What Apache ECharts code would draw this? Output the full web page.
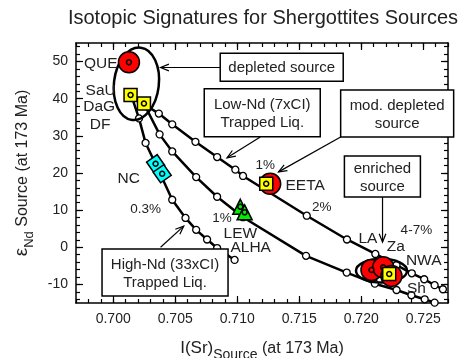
<!DOCTYPE html>
<html><head><meta charset="utf-8">
<script src="https://cdn.jsdelivr.net/npm/echarts@6/dist/echarts.min.js"></script>
<style>html,body{margin:0;padding:0;background:#fff}#c{width:468px;height:358px}</style>
</head><body><div id="c"></div>
<script>
// ---- axis ticks ----
const xRange = [0.697, 0.727];
const yRange = [-15, 55];
const xMajorTicks = [0.700, 0.705, 0.710, 0.715, 0.720, 0.725];
const yMajorTicks = [-10, 0, 10, 20, 30, 40, 50];

// ---- mixing curves (I(Sr), eps Nd) ----
const curveHighNd = [[0.7015,40.5],[0.70208,34.7],[0.70261,28.1],[0.70368,20.6],[0.70476,12.8],[0.70583,7.9],[0.70669,4.7],[0.70757,2.1],[0.70838,-0.2],[0.70979,-3.4]];
const curveMid = [[0.7025,38.5],[0.70374,30.4],[0.70476,25.8],[0.70669,18.9],[0.70838,13.6],[0.71047,8.1],[0.71555,-2.3],[0.71883,-6.8],[0.72110,-9.8],[0.72285,-11.5],[0.72405,-12.9],[0.72512,-14.0],[0.72592,-14.9]];
const curveLowNd = [[0.7025,38.5],[0.70368,36.0],[0.70476,33.1],[0.70663,28.4],[0.70838,24.3],[0.70985,20.9],[0.71047,19.2],[0.71561,8.5],[0.71885,2.1],[0.72114,-1.8],[0.72285,-4.8],[0.72408,-7.0],[0.72508,-8.6],[0.72592,-10.2],[0.72659,-11.3]];

// ---- source compositions ----
const redSources = [[0.70127,49.8],[0.71266,17.1],[0.72083,-6.1],[0.72177,-5.4],[0.72244,-7.7]];
const yellowSources = [[0.7014,41.0],[0.70248,38.7],[0.71234,17.1],[0.72226,-7.2]];
const cyanSources = [[0.70342,22.5],[0.70395,19.8]];
const greenSources = [[0.71025,10.9],[0.7106,9.4]];

// ---- annotations ----
const labelTexts = ['QUE','SaU','DaG','DF','NC','0.3%','1%','EETA','2%','1%','LEW','ALHA','LA','Za','NWA','Sh','4-7%'];
const labelPos = [[0.69899,49.5],[0.69899,42.2],[0.69887,37.8],[0.69895,33.0],[0.70125,18.5],[0.70261,10.1],[0.71226,22.2],[0.71548,16.6],[0.71682,10.8],[0.70878,7.8],[0.71025,3.6],[0.71109,0],[0.72054,2.4],[0.72279,0.2],[0.72504,-3.6],[0.72445,-11.1],[0.72445,4.5]];
const boxTexts = ['depleted source','Low-Nd (7xCI)\nTrapped Liq.','mod. depleted\nsource','enriched\nsource','High-Nd (33xCI)\nTrapped Liq.'];
const boxCenters = [[0.71359,48.5],[0.71202,36.2],[0.7229,36.0],[0.72171,19.05],[0.70418,-6.8]];
const arrowFrom = [[0.70864,48.4],[0.71186,29.7],[0.71834,29.7],[0.72172,13.5],[0.70382,0]];
const arrowTo = [[0.70382,48.4],[0.70918,24.1],[0.71333,20.3],[0.72172,1.4],[0.70569,5.7]];
const ellipseCenters = [[0.70187,44.0],[0.72164,-6.3]];
const ellipseRadii = [[0.00181,9.8],[0.00206,3.2]];

// ---- styles ----
const FONT = '"Liberation Sans", Arial, Helvetica, sans-serif';
const boxSizes = [[123,28],[116,48],[113,47],[76,41],[126,47]];
const ellipseRot = [-0.12, 0];

const xMinorTicks = [], yMinorTicks = [];
for (let i = 0; i <= 30; i++) xMinorTicks.push(+(0.697 + i * 0.001).toFixed(3));
for (let v = -14; v <= 54; v += 2) yMinorTicks.push(v);

const lineAxis = {show:true, onZero:false, lineStyle:{color:'#000', width:1.5}};
function mkX(pos, major, withLabel) {
  return {
    type:'value', position:pos, min:xRange[0], max:xRange[1],
    axisLine: major ? lineAxis : {show:false, onZero:false},
    axisTick:{show:true, inside:true, length: major ? 7 : 4, customValues: major ? xMajorTicks : xMinorTicks, lineStyle:{color:'#000', width:1.2}},
    axisLabel: withLabel ? {show:true, customValues:xMajorTicks, formatter:v=>v.toFixed(3), fontSize:14, color:'#222', fontFamily:FONT, margin:9} : {show:false},
    splitLine:{show:false}
  };
}
function mkY(pos, major, withLabel) {
  return {
    type:'value', position:pos, min:yRange[0], max:yRange[1],
    axisLine: major ? lineAxis : {show:false, onZero:false},
    axisTick:{show:true, inside:true, length: major ? 7 : 4, customValues: major ? yMajorTicks : yMinorTicks, lineStyle:{color:'#000', width:1.2}},
    axisLabel: withLabel ? {show:true, customValues:yMajorTicks, fontSize:14, color:'#222', fontFamily:FONT, margin:8} : {show:false},
    splitLine:{show:false}
  };
}
const xBottom = mkX('bottom', true, true);
Object.assign(xBottom, {
  name:'{m|I(Sr)}{s|Source}{n| (at 173 Ma)}', nameLocation:'middle', nameGap:37,
  nameTextStyle:{rich:{
    m:{fontSize:17, fontFamily:FONT, color:'#222', verticalAlign:'bottom', padding:[0,0,5,0]},
    s:{fontSize:14, fontFamily:FONT, color:'#222', verticalAlign:'bottom'},
    n:{fontSize:16, fontFamily:FONT, color:'#222', verticalAlign:'bottom', padding:[0,0,5,0]}
  }}
});
const yLeft = mkY('left', true, true);
Object.assign(yLeft, {
  name:'{e|ε}{s|Nd}{m| Source (at 173 Ma)}', nameLocation:'middle', nameGap:40, nameRotate:90,
  nameTextStyle:{rich:{
    e:{fontSize:19, fontFamily:FONT, color:'#222', verticalAlign:'bottom', padding:[0,0,5,0]},
    s:{fontSize:13, fontFamily:FONT, color:'#222', verticalAlign:'bottom'},
    m:{fontSize:16, fontFamily:FONT, color:'#222', verticalAlign:'bottom', padding:[0,0,5,0]}
  }}
});

function curve(data) {
  return {type:'line', data, z:2, symbol:'circle', symbolSize:7, showSymbol:true, showAllSymbol:true,
    itemStyle:{color:'#fff', borderColor:'#000', borderWidth:1.3},
    lineStyle:{color:'#000', width:2.5}, emphasis:{disabled:true}, silent:true};
}
function markers(data, symbol, size, color, rotate) {
  return {type:'scatter', data, z:4, symbol, symbolSize:size, symbolRotate:rotate||0,
    itemStyle:{color, borderColor:'#000', borderWidth:1.5, opacity:1}, emphasis:{disabled:true}, silent:true};
}
function dots(data, color) {
  return {type:'scatter', data, z:4, symbol:'circle', symbolSize:5,
    itemStyle:{color, borderColor:'#000', borderWidth:1.5, opacity:1}, emphasis:{disabled:true}, silent:true};
}

const option = {
  animation:false,
  backgroundColor:'#fff',
  grid:{left:76, right:20, top:43, bottom:55, containLabel:false, outerBoundsMode:'none'},
  graphic:[{type:'text', x:263, y:18, style:{text:'Isotopic Signatures for Shergottites Sources', align:'center', verticalAlign:'middle', fontSize:20, fontFamily:FONT, fill:'#222'}}],
  xAxis:[xBottom, mkX('bottom', false, false), mkX('top', true, false), mkX('top', false, false)],
  yAxis:[yLeft, mkY('left', false, false), mkY('right', true, false), mkY('right', false, false)],
  series:[
    curve(curveHighNd), curve(curveMid), curve(curveLowNd),
    {type:'custom', z:3, data:ellipseCenters, encode:{x:0, y:1}, silent:true,
      renderItem:(params, api) => {
        const i = params.dataIndex;
        const c = api.coord([api.value(0), api.value(1)]);
        const s = api.size(ellipseRadii[i]);
        return {type:'ellipse', x:c[0], y:c[1], rotation:ellipseRot[i],
          shape:{cx:0, cy:0, rx:s[0], ry:s[1]}, style:{fill:'none', stroke:'#000', lineWidth:2.5}};
      }},
    markers(redSources, 'circle', 21, '#ff0000'), dots(redSources, '#ff0000'),
    markers(yellowSources, 'rect', 13, '#ffff00'), dots(yellowSources, '#ffff00'),
    markers(cyanSources, 'rect', 13, '#00ffff', 35), dots(cyanSources, '#00ffff'),
    markers(greenSources, 'triangle', 15, '#00ee00'), dots(greenSources, '#00ee00'),
    {type:'custom', z:6, data:arrowFrom, encode:{x:0, y:1}, silent:true,
      renderItem:(params, api) => {
        const i = params.dataIndex;
        const a = api.coord([api.value(0), api.value(1)]);
        const b = api.coord(arrowTo[i]);
        const ang = Math.atan2(b[1]-a[1], b[0]-a[0]);
        const L = 9, w = 0.38;
        const p1 = [b[0]-L*Math.cos(ang-w), b[1]-L*Math.sin(ang-w)];
        const p2 = [b[0]-L*Math.cos(ang+w), b[1]-L*Math.sin(ang+w)];
        return {type:'group', children:[
          {type:'polyline', shape:{points:[a,b]}, style:{stroke:'#000', lineWidth:1.2, fill:'none'}},
          {type:'polyline', shape:{points:[p1,b,p2]}, style:{stroke:'#000', lineWidth:1.2, fill:'none'}}
        ]};
      }},
    {type:'custom', z:7, data:boxCenters, encode:{x:0, y:1}, silent:true,
      renderItem:(params, api) => {
        const i = params.dataIndex;
        const c = api.coord([api.value(0), api.value(1)]);
        const w = boxSizes[i][0], h = boxSizes[i][1];
        return {type:'group', children:[
          {type:'rect', shape:{x:c[0]-w/2, y:c[1]-h/2, width:w, height:h}, style:{fill:'#fff', stroke:'#000', lineWidth:1.5}},
          {type:'text', x:c[0], y:c[1]+1, style:{text:boxTexts[i], align:'center', verticalAlign:'middle', fontSize:15, lineHeight:18, fontFamily:FONT, fill:'#222'}}
        ]};
      }},
    {type:'custom', z:7, data:labelPos, encode:{x:0, y:1}, silent:true,
      renderItem:(params, api) => {
        const i = params.dataIndex;
        const c = api.coord([api.value(0), api.value(1)]);
        const t = labelTexts[i];
        const isPct = t.indexOf('%') >= 0;
        return {type:'text', x:c[0], y:c[1], style:{text:t, align:'center', verticalAlign:'middle', fontSize: isPct ? 13.5 : 15.5, fontFamily:FONT, fill:'#222'}};
      }}
  ]
};
const chart = echarts.init(document.getElementById('c'), null, {renderer:'canvas'});
chart.setOption(option);
</script></body></html>
